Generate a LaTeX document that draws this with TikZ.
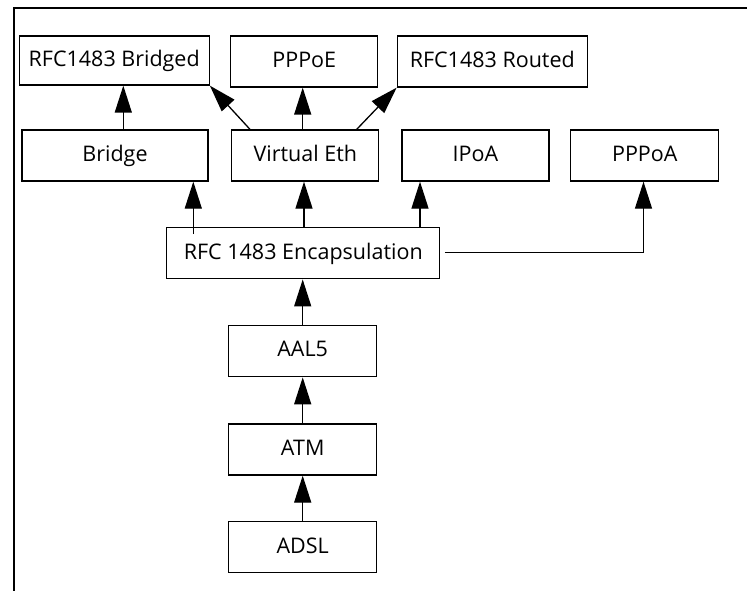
\documentclass[tikz,border=0pt]{standalone}
\usepackage{fontspec}
\setmainfont{Open Sans}
\usetikzlibrary{arrows.meta}
\begin{document}
\begin{tikzpicture}[x=1pt,y=-1pt,
  box/.style={draw, line width=1.3pt, inner sep=0pt, font=\fontsize{21.5}{24}\selectfont, text height=15.5pt, text depth=4pt},
  arr/.style={line width=1.3pt, -{Triangle[length=27pt,width=17pt]}},
  conn/.style={line width=1.3pt}]
\useasboundingbox (0,0) rectangle (747,591);
\draw[line width=2pt] (14,591) -- (14,8.5) -- (747,8.5);
\node[box, minimum width=190pt, minimum height=49pt] (bridged) at (114.2,60.5) {RFC1483 Bridged};
\node[box, minimum width=147pt, minimum height=51pt] (pppoe) at (304.3,61.5) {PPPoE};
\node[box, minimum width=190pt, minimum height=51pt] (routed) at (492.3,61.5) {RFC1483 Routed};
\node[box, minimum width=186pt, minimum height=51pt] (bridge) at (115,155.5) {Bridge};
\node[box, minimum width=147pt, minimum height=51pt] (veth) at (305.3,155.5) {Virtual Eth};
\node[box, minimum width=147pt, minimum height=51pt] (ipoa) at (475.5,155.5) {IPoA};
\node[box, minimum width=148pt, minimum height=51pt] (pppoa) at (644.8,155.5) {PPPoA};
\node[box, minimum width=273pt, minimum height=51pt] (encap) at (303.3,253.3) {RFC 1483 Encapsulation};
\node[box, minimum width=148pt, minimum height=51pt] (aal5) at (302.7,351.2) {AAL5};
\node[box, minimum width=148pt, minimum height=51pt] (atm) at (302.7,449.5) {ATM};
\node[box, minimum width=148pt, minimum height=51pt] (adsl) at (302.7,547.3) {ADSL};
% top layer
\draw[arr] (123.3,0 |- bridge.north) -- (123.3,0 |- bridged.south);
\draw[arr] (250,0 |- veth.north) -- (bridged.south east);
\draw[arr] (302.7,0 |- veth.north) -- (302.7,0 |- pppoe.south);
\draw[arr] (356.7,0 |- veth.north) -- (routed.south west);
% encapsulation
\draw[arr] (193.3,234) -- (193.3,0 |- bridge.south);
\draw[arr] (304,0 |- encap.north) -- (304,0 |- veth.south);
\draw[arr] (420,0 |- encap.north) -- (420,0 |- ipoa.south);
\coordinate (pa) at (643.5,252.3);
\draw[conn] ([xshift=4.5pt]encap.east |- pa) -- (pa);
\draw[arr] (pa) -- (pa |- pppoa.south);
% stack
\draw[arr] (aal5.north) -- (encap.south -| aal5.north);
\draw[arr] (atm.north) -- (aal5.south);
\draw[arr] (adsl.north) -- (atm.south);
\end{tikzpicture}
\end{document}
